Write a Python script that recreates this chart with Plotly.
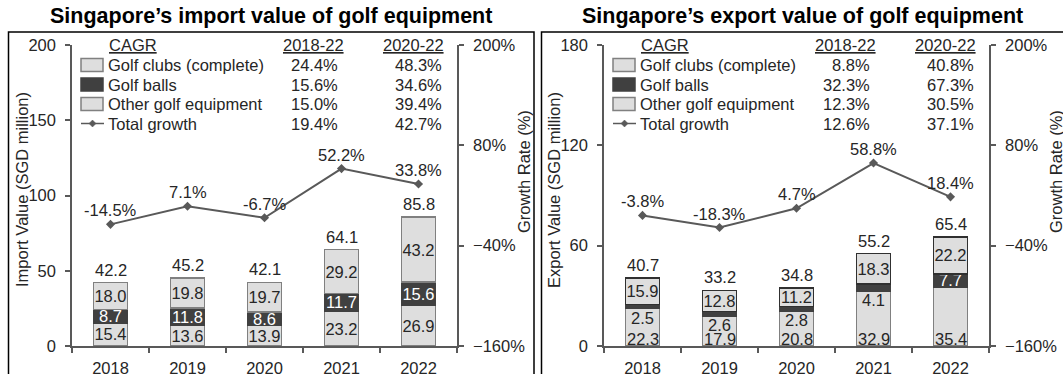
import plotly.graph_objects as go

W, H = 1063, 374
FONT = "Liberation Sans, Arial, sans-serif"
FS = 16.5
TXT = "#262626"
AX = "#595959"
LIGHT = "#dedede"
DARK = "#404040"
EDGE = "#808080"

years = ["2018", "2019", "2020", "2021", "2022"]

# Import values (SGD million)
imp_clubs = [18.0, 19.8, 19.7, 29.2, 43.2]
imp_balls = [8.7, 11.8, 8.6, 11.7, 15.6]
imp_other = [15.4, 13.6, 13.9, 23.2, 26.9]
imp_total = [42.2, 45.2, 42.1, 64.1, 85.8]
imp_growth = [-14.5, 7.1, -6.7, 52.2, 33.8]

# Export values (SGD million)
exp_clubs = [15.9, 12.8, 11.2, 18.3, 22.2]
exp_balls = [2.5, 2.6, 2.8, 4.1, 7.7]
exp_other = [22.3, 17.9, 20.8, 32.9, 35.4]
exp_total = [40.7, 33.2, 34.8, 55.2, 65.4]
exp_growth = [-3.8, -18.3, 4.7, 58.8, 18.4]

# CAGR table
series_names = ["Golf clubs (complete)", "Golf balls", "Other golf equipment", "Total growth"]
imp_cagr_1822 = [24.4, 15.6, 15.0, 19.4]
imp_cagr_2022 = [48.3, 34.6, 39.4, 42.7]
exp_cagr_1822 = [8.8, 32.3, 12.3, 12.6]
exp_cagr_2022 = [40.8, 67.3, 30.5, 37.1]


def px(x):
    return x / W


def py(y):
    return 1 - y / H


def note(x, y, text, xanchor="center", yanchor="middle", size=FS, color=TXT, **kw):
    return dict(x=x, y=y, text=text, xanchor=xanchor, yanchor=yanchor, showarrow=False,
                font=dict(family=FONT, size=size, color=color), **kw)


Y_DOM = [py(346), py(45)]

panels = [
    dict(title="Singapore’s import value of golf equipment", ytitle="Import Value (SGD million)",
         clubs=imp_clubs, balls=imp_balls, other=imp_other, total=imp_total, growth=imp_growth,
         c1=imp_cagr_1822, c2=imp_cagr_2022, ymax=200, dtick=50, off=0, xa="x", ya="y", yb="y2",
         frame=(8.5, 534), small_labels_outside=False, title_x=271, clubs_edge=EDGE),
    dict(title="Singapore’s export value of golf equipment", ytitle="Export Value (SGD million)",
         clubs=exp_clubs, balls=exp_balls, other=exp_other, total=exp_total, growth=exp_growth,
         c1=exp_cagr_1822, c2=exp_cagr_2022, ymax=180, dtick=60, off=532, xa="x2", ya="y3", yb="y4",
         frame=(541.5, 1075), small_labels_outside=True, title_x=802, clubs_edge="#303030"),
]

fig = go.Figure()
annotations = []
shapes = []

for p in panels:
    off = p["off"]
    xa, ya, yb = p["xa"], p["ya"], p["yb"]
    bar_common = dict(x=years, xaxis=xa, yaxis=ya, textposition="inside", constraintext="none",
                      insidetextanchor="middle", textangle=0, showlegend=False, hoverinfo="skip")

    if p["small_labels_outside"]:
        # base segment labels sit at the foot of each bar
        other_text = [""] * len(years)
        for j, o in enumerate(p["other"]):
            annotations.append(note(j, 0, f"{o:.1f}", yanchor="bottom", xref=xa, yref=ya, yshift=-4))
        # thin golf-ball segments get their label just beneath the segment
        balls_text = [f"{v:.1f}" if v >= 5 else "" for v in p["balls"]]
        for j, (b, o) in enumerate(zip(p["balls"], p["other"])):
            if b < 5:
                annotations.append(note(j, o, f"{b:.1f}", yanchor="top", xref=xa, yref=ya, yshift=2))
    else:
        other_text = [f"{v:.1f}" for v in p["other"]]
        balls_text = [f"{v:.1f}" for v in p["balls"]]

    fig.add_trace(go.Bar(y=p["other"], text=other_text,
                         marker=dict(color=LIGHT, line=dict(color=EDGE, width=1.5)),
                         textfont=dict(family=FONT, size=FS, color=TXT), **bar_common))
    fig.add_trace(go.Bar(y=p["balls"], text=balls_text,
                         marker=dict(color=DARK, line=dict(color=DARK, width=1.5)),
                         textfont=dict(family=FONT, size=FS, color="white"), **bar_common))
    fig.add_trace(go.Bar(y=p["clubs"], text=[f"{v:.1f}" for v in p["clubs"]],
                         marker=dict(color=LIGHT, line=dict(color=p["clubs_edge"], width=1.5)),
                         textfont=dict(family=FONT, size=FS, color=TXT), **bar_common))

    # totals above the stacks
    stack_top = [a + b + c for a, b, c in zip(p["other"], p["balls"], p["clubs"])]
    for j, (t, top) in enumerate(zip(p["total"], stack_top)):
        annotations.append(note(j, top, f"{t:.1f}", yanchor="bottom", xref=xa, yref=ya, yshift=2))

    # total growth line on the secondary axis
    fig.add_trace(go.Scatter(x=years, y=p["growth"], xaxis=xa, yaxis=yb, mode="lines+markers",
                             line=dict(color=AX, width=2), marker=dict(symbol="diamond", size=7, color=AX),
                             showlegend=False, hoverinfo="skip"))
    for j, g in enumerate(p["growth"]):
        annotations.append(note(j, g, f"{g:.1f}%", yanchor="bottom", xref=xa, yref=yb, yshift=3))

    x_dom = [px(72 + off), px(457 + off)]
    axis_font = dict(family=FONT, size=FS, color=TXT)
    common_ax = dict(ticks="outside", ticklen=5, tickwidth=1.5, tickcolor=AX, showline=True,
                     linecolor=AX, linewidth=1.5, tickfont=axis_font, showgrid=False,
                     zeroline=False, automargin=False, fixedrange=True)
    xkey = "xaxis" if xa == "x" else "xaxis2"
    yakey = "yaxis" if ya == "y" else "yaxis3"
    ybkey = "yaxis2" if yb == "y2" else "yaxis4"
    fig.update_layout(**{
        xkey: dict(domain=x_dom, anchor=ya, type="category", range=[-0.5, 4.5], tickson="boundaries",
                   tickangle=0, ticklabelstandoff=6, **common_ax),
        yakey: dict(domain=Y_DOM, anchor=xa, range=[0, p["ymax"]], dtick=p["dtick"], tick0=0,
                    ticklabelstandoff=6, **common_ax),
        ybkey: dict(domain=Y_DOM, anchor=xa, overlaying=ya, side="right", range=[-160, 200],
                    dtick=120, tick0=-160, ticksuffix="%", ticklabelstandoff=6, **common_ax),
    })

    # axis titles
    annotations.append(note(px(22 + off), py(190), p["ytitle"], xref="paper", yref="paper", textangle=-90))
    annotations.append(note(px(524 + off), py(172), "Growth Rate (%)", xref="paper", yref="paper",
                            textangle=-90))

    # chart title
    annotations.append(note(px(p["title_x"]), py(16), f"<b>{p['title']}</b>", size=21.5, color="black",
                            xref="paper", yref="paper"))

    # panel frame
    x0, x1 = p["frame"]
    shapes.append(dict(type="rect", xref="paper", yref="paper", x0=px(x0), x1=px(x1),
                       y0=py(32), y1=py(380), line=dict(color="black", width=1.5)))

    # CAGR table legend
    annotations.append(note(px(107 + off), py(45), "<u>CAGR</u>", xanchor="left", xref="paper", yref="paper"))
    annotations.append(note(px(346 + off), py(45), "<u>2018-22</u>", xanchor="right", xref="paper",
                            yref="paper"))
    annotations.append(note(px(446 + off), py(45), "<u>2020-22</u>", xanchor="right", xref="paper",
                            yref="paper"))
    swatches = [(LIGHT, EDGE), (DARK, DARK), (LIGHT, EDGE)]
    for r, name in enumerate(series_names):
        yc = 65 + 19.5 * r
        if r < 3:
            fill, edge = swatches[r]
            shapes.append(dict(type="rect", xref="paper", yref="paper", x0=px(81 + off), x1=px(103 + off),
                               y0=py(yc - 6.5), y1=py(yc + 6.5), fillcolor=fill,
                               line=dict(color=edge, width=1.5)))
        else:
            shapes.append(dict(type="line", xref="paper", yref="paper", x0=px(81 + off), x1=px(104 + off),
                               y0=py(yc), y1=py(yc), line=dict(color=AX, width=1.5)))
            shapes.append(dict(type="path", xref="paper", yref="paper",
                               path=(f"M {px(92.5 + off)},{py(yc - 3.5)} L {px(96 + off)},{py(yc)} "
                                     f"L {px(92.5 + off)},{py(yc + 3.5)} L {px(89 + off)},{py(yc)} Z"),
                               fillcolor=AX, line=dict(color=AX, width=0.5)))
        annotations.append(note(px(106 + off), py(yc), name, xanchor="left", xref="paper", yref="paper"))
        annotations.append(note(px(340 + off), py(yc), f"{p['c1'][r]:.1f}%", xanchor="right",
                                xref="paper", yref="paper"))
        annotations.append(note(px(444 + off), py(yc), f"{p['c2'][r]:.1f}%", xanchor="right",
                                xref="paper", yref="paper"))

fig.update_layout(
    width=W, height=H, margin=dict(l=0, r=0, t=0, b=0, autoexpand=False),
    paper_bgcolor="white", plot_bgcolor="rgba(0,0,0,0)",
    barmode="stack", bargap=0.56,
    font=dict(family=FONT, size=FS, color=TXT),
    annotations=annotations, shapes=shapes,
)

fig.write_html("out.html", config={"displayModeBar": False})
